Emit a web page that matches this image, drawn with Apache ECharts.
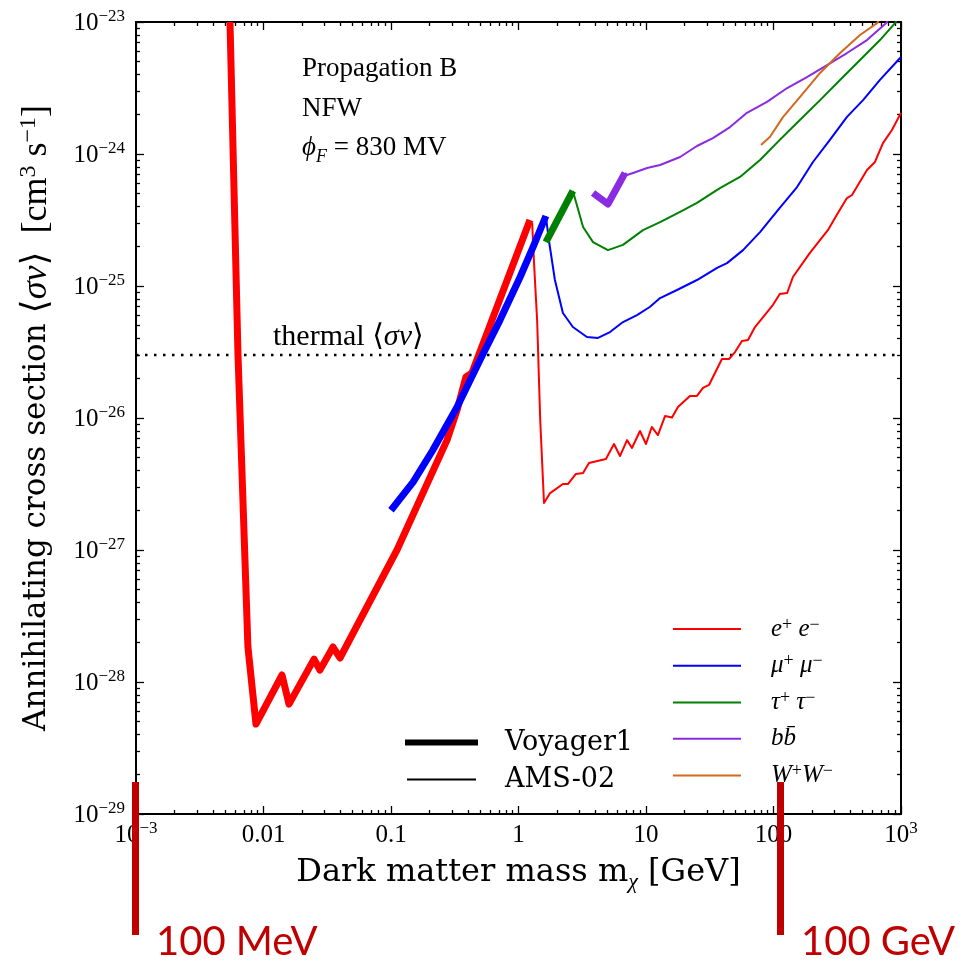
<!DOCTYPE html>
<html>
<head>
<meta charset="utf-8">
<script src="https://cdn.jsdelivr.net/npm/echarts@6/dist/echarts.min.js"></script>
<style>
  html, body { margin: 0; padding: 0; background: #fff; }
  #main { width: 979px; height: 966px; }
</style>
</head>
<body>
<div id="main"></div>
<script type="text/javascript">
// ---- data: [mass GeV, <sigma v> cm^3/s] ----
var eeVoyager = [[0.00546,1e-23],[0.00631,3.0e-26],[0.00755,1.84e-28],[0.00873,4.8e-29],[0.01397,1.13e-28],
  [0.01585,6.8e-29],[0.0249,1.49e-28],[0.0277,1.23e-28],[0.0351,1.84e-28],[0.0398,1.52e-28],[0.1114,1.0e-27],
  [0.275,6.8e-27],[0.33,1.15e-26],[0.387,2.05e-26],[0.431,2.19e-26],[0.716,7.97e-26],[1.23,3.16e-25]];
var eeAMS = [[1.28,3.0e-25],[1.32,1.57e-25],[1.40,5.5e-26],[1.48,9.7e-27],[1.585,2.27e-27],[1.77,2.70e-27],
  [2.23,3.16e-27],[2.44,3.16e-27],[2.82,3.77e-27],[3.21,3.83e-27],[3.57,4.56e-27],[4.85,4.89e-27],[5.61,6.35e-27],
  [6.25,5.15e-27],[7.10,6.8e-27],[7.76,5.93e-27],[8.97,7.97e-27],[10.0,6.35e-27],[11.1,8.55e-27],[12.4,7.43e-27],
  [14.1,1.035e-26],[16.0,1.01e-26],[17.8,1.21e-26],[22.1,1.47e-26],[25.1,1.47e-26],[28.0,1.69e-26],[31.2,1.78e-26],
  [39.4,2.8e-26],[44.8,2.8e-26],[49.9,3.16e-26],[56.6,3.83e-26],[63.1,3.9e-26],[71.6,4.89e-26],[99.1,7.2e-26],
  [112,8.7e-26],[128,8.85e-26],[142,1.17e-25],[193,1.78e-25],[267,2.65e-25],[320,3.57e-25],[377,4.64e-25],
  [413,4.89e-25],[460,5.82e-25],[541,7.57e-25],[625,8.7e-25],[722,1.21e-24],[849,1.52e-24],[1000,2.05e-24]];
var mumuVoyager = [[0.1,2.0e-27],[0.149,3.27e-27],[0.213,5.72e-27],[0.33,1.21e-26],[0.499,2.75e-26],
  [0.716,5.52e-26],[1.03,1.17e-25],[1.30,1.97e-25],[1.64,3.39e-25]];
var mumuAMS = [[1.64,3.39e-25],[1.73,2.23e-25],[1.93,1.11e-25],[2.23,6.24e-26],[2.67,4.89e-26],[3.44,4.11e-26],
  [4.2,4.04e-26],[5.22,4.48e-26],[6.6,5.33e-26],[8.5,6.02e-26],[10.7,6.93e-26],[12.9,8.1e-26],[17.5,9.33e-26],
  [25.1,1.11e-25],[36.1,1.37e-25],[43.2,1.49e-25],[57.7,1.87e-25],[78.4,2.56e-25],[112,3.9e-25],[153,5.62e-25],
  [204,8.7e-25],[277,1.28e-24],[377,1.91e-24],[504,2.56e-24],[684,3.64e-24],[1000,5.43e-24]];
var tautauVoyager = [[1.64,2.15e-25],[2.67,5.25e-25]];
var tautauAMS = [[2.67,5.25e-25],[3.21,2.8e-25],[3.84,2.15e-25],[5.03,1.87e-25],[6.6,2.05e-25],[9.47,2.65e-25],
  [12.9,3.05e-25],[18.5,3.64e-25],[25.1,4.26e-25],[38.0,5.52e-25],[54.6,6.7e-25],[78.4,9.0e-25],[112,1.28e-24],
  [161,1.81e-24],[232,2.56e-24],[351,3.83e-24],[504,5.43e-24],[684,7.3e-24],[898,9.8e-24],[1000,1.2e-23]];
var bbVoyager = [[3.84,5.07e-25],[5.03,4.18e-25],[6.84,7.18e-25]];
var bbAMS = [[6.84,7.18e-25],[7.10,6.93e-25],[7.91,7.18e-25],[10.2,7.83e-25],[12.9,8.26e-25],[18.5,9.49e-25],
  [25.1,1.15e-24],[33.5,1.32e-24],[45.6,1.6e-24],[61.9,2.05e-24],[88.9,2.48e-24],[128,3.16e-24],[183,3.83e-24],
  [263,4.72e-24],[377,5.82e-24],[541,7.3e-24],[762,9.8e-24],[850,1.15e-23]];
var wwAMS = [[79.8,1.17e-24],[94.0,1.35e-24],[119,1.91e-24],[161,2.7e-24],[232,4.11e-24],[333,5.82e-24],
  [477,7.97e-24],[649,9.8e-24],[720,1.15e-23]];
var thermalSigmaV = 3e-26;

var xTicks = [1e-3, 0.01, 0.1, 1, 10, 100, 1e3];
var yTicks = [1e-29, 1e-28, 1e-27, 1e-26, 1e-25, 1e-24, 1e-23];

// log axis misbehaves with values this small, so plot <sigma v> in units of 1e-26
var Y_UNIT = 1e-26;
function log10i(v) { return Math.round(Math.log(v) / Math.LN10); }
function toPlot(arr) {
  return arr.map(function (p) { return [p[0], p[1] / Y_UNIT]; });
}
var yTicksPlot = yTicks.map(function (v) { return Math.pow(10, log10i(v / Y_UNIT)); });

// minor ticks 2..9 x 10^k
function minorTicks(lo, hi) {
  var out = [];
  for (var k = lo; k < hi; k++) {
    for (var m = 2; m <= 9; m++) out.push(m * Math.pow(10, k));
  }
  return out;
}
var xMinor = minorTicks(-3, 3);
var yMinor = minorTicks(-3, 3);

var serif = "'Liberation Serif', 'DejaVu Serif', serif";
var dserif = "'DejaVu Serif', serif";
var RED = '#ff0000', BLUE = '#0000ff', GREEN = '#008000', PURPLE = '#8a2be2', ORANGE = '#d2691e', MARK = '#c00000';

var tickRich = {
  b: { fontFamily: serif, fontSize: 25, color: '#000', lineHeight: 28, verticalAlign: 'bottom' },
  s: { fontFamily: serif, fontSize: 17, color: '#000', lineHeight: 14, verticalAlign: 'top' }
};

function xLabel(v) {
  var e = log10i(v);
  if (e === -3 || e === 3) return '{b|10}{s|' + (e < 0 ? '\u2212' + (-e) : e) + '}';
  if (e < 0) return '{b|' + v.toFixed(-e) + '}';
  return '{b|' + Math.round(v) + '}';
}
function yLabel(v) {
  var e = log10i(v * Y_UNIT);
  return '{b|10}{s|\u2212' + (-e) + '}';
}

function xAxisDef(pos, values, len, major) {
  return {
    type: 'log', logBase: 10, min: 1e-3, max: 1e3, position: pos, gridIndex: 0,
    axisLine: { show: major, onZero: false, lineStyle: { color: '#000', width: 2 } },
    axisTick: { show: true, inside: true, length: len, customValues: values, lineStyle: { color: '#000', width: 1.3 } },
    axisLabel: (major && pos === 'bottom') ? { show: true, customValues: xTicks, formatter: xLabel, margin: 6, rich: tickRich } : { show: false },
    splitLine: { show: false }, minorTick: { show: false }
  };
}
function yAxisDef(pos, values, len, major) {
  return {
    type: 'log', logBase: 10, min: yTicksPlot[0], max: yTicksPlot[yTicksPlot.length - 1], position: pos, gridIndex: 0,
    axisLine: { show: major, onZero: false, lineStyle: { color: '#000', width: 2 } },
    axisTick: { show: true, inside: true, length: len, customValues: values, lineStyle: { color: '#000', width: 1.3 } },
    axisLabel: (major && pos === 'left') ? { show: true, customValues: yTicksPlot, formatter: yLabel, margin: 11, rich: tickRich } : { show: false },
    splitLine: { show: false }, minorTick: { show: false }
  };
}

var xAxes = [xAxisDef('bottom', xTicks, 8, true), xAxisDef('bottom', xMinor, 4, false),
             xAxisDef('top', xTicks, 8, true), xAxisDef('top', xMinor, 4, false)];
xAxes[0].name = '{t|Dark matter mass m}{sub|\u03c7}{t| [GeV]}';
xAxes[0].nameLocation = 'middle';
xAxes[0].nameGap = 39;
xAxes[0].nameTextStyle = { rich: {
  t: { fontFamily: dserif, fontSize: 32, color: '#000', lineHeight: 40, verticalAlign: 'middle' },
  sub: { fontFamily: serif, fontStyle: 'italic', fontSize: 22, color: '#000', lineHeight: 22, verticalAlign: 'bottom' }
} };

var yAxes = [yAxisDef('left', yTicksPlot, 8, true), yAxisDef('left', yMinor, 4, false),
             yAxisDef('right', yTicksPlot, 8, true), yAxisDef('right', yMinor, 4, false)];
yAxes[0].name = '{a|Annihilating cross section }{m|\u27e8}{mi|\u03c3v}{m|\u27e9  [cm}{s|3}{m| s}{s|\u22121}{m|]}';
yAxes[0].nameLocation = 'middle';
yAxes[0].nameRotate = 90;
yAxes[0].nameGap = 79;
yAxes[0].nameTextStyle = { rich: {
  a: { fontFamily: dserif, fontSize: 31, color: '#000', lineHeight: 40, verticalAlign: 'middle' },
  m: { fontFamily: serif, fontSize: 36, color: '#000', lineHeight: 40, verticalAlign: 'middle' },
  mi: { fontFamily: serif, fontStyle: 'italic', fontSize: 36, color: '#000', lineHeight: 40, verticalAlign: 'middle' },
  s: { fontFamily: serif, fontSize: 24, color: '#000', lineHeight: 22, verticalAlign: 'top' }
} };

function curve(name, data, color, width, z) {
  return {
    name: name, type: 'line', data: toPlot(data), xAxisIndex: 0, yAxisIndex: 0,
    symbol: 'none', showSymbol: false, animation: false, silent: true, z: z,
    lineStyle: { color: color, width: width, join: 'round', cap: 'butt' },
    itemStyle: { color: color }
  };
}

var series = [
  curve('e+e- Voyager1', eeVoyager, RED, 7, 2),
  curve('e+e-', eeAMS, RED, 2, 3),
  curve('mu+mu- Voyager1', mumuVoyager, BLUE, 7, 4),
  curve('mu+mu-', mumuAMS, BLUE, 2, 4),
  curve('tau+tau- Voyager1', tautauVoyager, GREEN, 7, 5),
  curve('tau+tau-', tautauAMS, GREEN, 2, 5),
  curve('bbbar Voyager1', bbVoyager, PURPLE, 7, 6),
  curve('bbbar', bbAMS, PURPLE, 2, 6),
  curve('W+W-', wwAMS, ORANGE, 2, 7),
  curve('Voyager1', [], '#000', 6, 1),
  curve('AMS-02', [], '#000', 2, 1),
  curve('thermal', [[1e-3, thermalSigmaV], [1e3, thermalSigmaV]], '#000', 2.5, 1)
];
series[series.length - 1].lineStyle.type = [2.5, 6.5];

var legendNames = {
  'e+e-': '{i|e}{s|+}{i| e}{s|\u2212}',
  'mu+mu-': '{i|\u03bc}{s|+}{i| \u03bc}{s|\u2212}',
  'tau+tau-': '{i|\u03c4}{s|+}{i| \u03c4}{s|\u2212}',
  'bbbar': '{i|bb\u0304}',
  'W+W-': '{i|W}{s|+}{i|W}{s|\u2212}'
};
var legendRich = {
  i: { fontFamily: serif, fontStyle: 'italic', fontSize: 25, color: '#000', lineHeight: 26, verticalAlign: 'middle' },
  s: { fontFamily: serif, fontSize: 18, color: '#000', lineHeight: 10, verticalAlign: 'top' }
};
function blackLegendText(pad) {
  return { fontFamily: dserif, fontSize: 27, color: '#000', lineHeight: 26, padding: [0, 0, 0, pad] };
}

var chart = echarts.init(document.getElementById('main'), null, { renderer: 'canvas' });
chart.setOption({
  backgroundColor: '#fff',
  animation: false,
  grid: { left: 136, right: 78, top: 22, bottom: 152, containLabel: false },
  xAxis: xAxes,
  yAxis: yAxes,
  legend: [{
    data: ['e+e-', 'mu+mu-', 'tau+tau-', 'bbbar', 'W+W-'],
    orient: 'vertical', left: 668, top: 611, itemWidth: 68, itemHeight: 2, itemGap: 11.25, icon: 'rect',
    selectedMode: false,
    formatter: function (n) { return legendNames[n]; },
    textStyle: { padding: [0, 0, 0, 25], rich: legendRich }
  }, {
    data: ['Voyager1'],
    orient: 'vertical', left: 400, top: 724, itemWidth: 73, itemHeight: 6, icon: 'rect',
    selectedMode: false, textStyle: blackLegendText(22)
  }, {
    data: ['AMS-02'],
    orient: 'vertical', left: 402, top: 761, itemWidth: 69, itemHeight: 2, icon: 'rect',
    selectedMode: false, textStyle: blackLegendText(24)
  }],
  graphic: [
    { type: 'text', left: 302, top: 55, style: { text: 'Propagation B', font: '27px ' + serif, fill: '#000' } },
    { type: 'text', left: 302, top: 95, style: { text: 'NFW', font: '27px ' + serif, fill: '#000' } },
    { type: 'text', left: 302, top: 134, style: {
      text: '{i|\u03d5}{sub|F}{m| = 830 MV}',
      rich: {
        i: { fontFamily: serif, fontStyle: 'italic', fontSize: 27, lineHeight: 32, verticalAlign: 'top' },
        sub: { fontFamily: serif, fontStyle: 'italic', fontSize: 18, lineHeight: 22, verticalAlign: 'bottom' },
        m: { fontFamily: serif, fontSize: 27, lineHeight: 32, verticalAlign: 'top' }
      } } },
    { type: 'text', left: 273, top: 322, style: {
      text: '{m|thermal \u27e8}{i|\u03c3v}{m|\u27e9}',
      rich: {
        m: { fontFamily: serif, fontSize: 30, lineHeight: 32 },
        i: { fontFamily: serif, fontStyle: 'italic', fontSize: 30, lineHeight: 32 }
      } } },
    { type: 'rect', z: 100, shape: { x: 132, y: 782, width: 7, height: 153 }, style: { fill: MARK } },
    { type: 'rect', z: 100, shape: { x: 777, y: 782, width: 7, height: 153 }, style: { fill: MARK } },
    { type: 'text', z: 100, left: 156, top: 922, style: { text: '100 MeV', font: '40px Lato', fill: MARK } },
    { type: 'text', z: 100, left: 801, top: 922, style: { text: '100 GeV', font: '40px Lato', fill: MARK } }
  ],
  series: series
});
</script>
</body>
</html>
